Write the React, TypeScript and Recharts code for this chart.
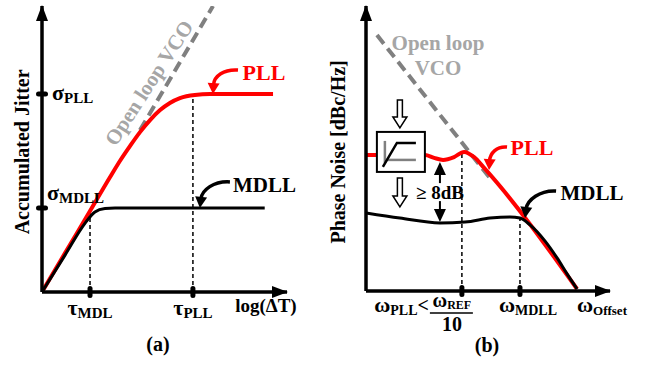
import React from "react";
import { LineChart, Line, XAxis, YAxis, ReferenceDot, ReferenceLine } from "recharts";

const FONT = '"Liberation Serif", "Times New Roman", serif';
const RED = "#ff0000";
const GRAY_LINE = "#808080";
const GRAY_TEXT = "#a6a6a6";

// (a) accumulated jitter vs log(dT), both axes 0..100 (arrow tip = 100)
const jitterVco = [[40, 56.6], [69.8, 100]];
const jitterPll = [
  [0, 0], [9.4, 13.6], [19.6, 28.3], [27.8, 40.2], [31.8, 45.8], [35.9, 51.0],
  [40.0, 55.9], [44.1, 60.1], [48.2, 63.6], [52.2, 66.1], [56.3, 67.8],
  [62.4, 68.9], [68.6, 69.2], [94.3, 69.2],
];
const jitterMdll = [
  [0, 0], [9.4, 12.9], [17.6, 24.1], [21.6, 28.0], [25.7, 29.2], [29.8, 29.4], [90.9, 29.4],
];
const jitterTicksX = [19.6, 61.6]; // tau_MDL, tau_PLL
const jitterTickNames = ["MDL", "PLL"];
const jitterTicksY = [29.4, 69.2]; // sigma_MDLL, sigma_PLL
const jitterTickNamesY = ["MDLL", "PLL"];

// (b) phase noise vs offset frequency
const noiseVco = [[4.5, 89.8], [50.8, 39.6]];
const noisePll = [
  [0, 47.7], [24.2, 47.7], [27.9, 46.7], [31.6, 46.0], [36.1, 47.0], [40.2, 48.8],
  [44.3, 47.0], [48.4, 43.2], [86.5, 0.7],
];
const noiseMdll = [
  [0, 27.4], [13.9, 25.6], [30.3, 23.9], [40.6, 24.2], [50.8, 25.6], [59.0, 26.0],
  [63.1, 25.6], [67.2, 23.2], [73.4, 17.5], [78.3, 11.6], [82.4, 6.0], [86.5, 0.7],
];
const noiseTicksX = [39.3, 63.1]; // omega_REF/10, omega_MDLL

const toXY = (pts: number[][]) => pts.map(([x, y]) => ({ x, y }));

function note(key: string, x: number, y: number, content: React.ReactNode) {
  return (
    <ReferenceDot
      key={key}
      x={x}
      y={y}
      r={0}
      ifOverflow="visible"
      shape={(p: any) => <g transform={`translate(${p.cx},${p.cy})`}>{content}</g>}
    />
  );
}

function Sym({ x = 0, y = 0, main, sub, size = 22, subSize = 15, subDy = 3, anchor = "start", color = "#000" }: any) {
  return (
    <text x={x} y={y} textAnchor={anchor} fontFamily={FONT} fontWeight="bold" fill={color}>
      <tspan fontSize={size}>{main}</tspan>
      <tspan fontSize={subSize} dy={subDy}>{sub}</tspan>
    </text>
  );
}

function Label({ text, size = 21, color = "#000", rotate = 0 }: any) {
  return (
    <text
      x={0}
      y={0}
      transform={rotate ? `rotate(${rotate})` : undefined}
      textAnchor="middle"
      dominantBaseline="central"
      fontFamily={FONT}
      fontWeight="bold"
      fontSize={size}
      fill={color}
    >
      {text}
    </text>
  );
}

function CurvedArrow({ tip, c1, c2, color, w = 3.5 }: any) {
  const [tx, ty] = tip;
  const dx = tx - c2[0];
  const dy = ty - c2[1];
  const len = Math.hypot(dx, dy);
  const ux = dx / len;
  const uy = dy / len;
  const hl = 11;
  const hw = 6;
  const bx = tx - ux * hl;
  const by = ty - uy * hl;
  const head = `${tx},${ty} ${bx - uy * hw},${by + ux * hw} ${bx + uy * hw},${by - ux * hw}`;
  return (
    <g>
      <path
        d={`M0 0 C${c1[0]} ${c1[1]} ${c2[0]} ${c2[1]} ${bx + ux * 2} ${by + uy * 2}`}
        fill="none"
        stroke={color}
        strokeWidth={w}
      />
      <polygon points={head} fill={color} />
    </g>
  );
}

function HollowArrow({ x = 0, y0, y1 }: any) {
  const sw = 2.5;
  const hw = 7;
  const hl = 11;
  const pts = [
    [x - sw, y0], [x + sw, y0], [x + sw, y1 - hl], [x + hw, y1 - hl],
    [x, y1], [x - hw, y1 - hl], [x - sw, y1 - hl],
  ];
  return <polygon points={pts.map((p) => p.join(",")).join(" ")} fill="#fff" stroke="#000" strokeWidth={1.5} />;
}

const xArrow = (
  <polygon points="1,0 -15,-6 -15,6" fill="#000" />
);
const yArrow = (
  <polygon points="0,-1 -6,15 6,15" fill="#000" />
);

function TauTick(p: any) {
  const { x, y, payload } = p;
  const i = jitterTicksX.indexOf(payload.value);
  return (
    <g>
      <rect x={x - 2.5} y={y - 6} width={5} height={12} rx={2.5} fill="#000" />
      <Sym x={x} y={y + 23} main="τ" sub={jitterTickNames[i]} anchor="middle" />
    </g>
  );
}

function SigmaTick(p: any) {
  const { x, y, payload } = p;
  const i = jitterTicksY.indexOf(payload.value);
  const dx = i === 0 ? 5 : 10;
  const dy = i === 0 ? -8 : 6;
  return (
    <g>
      <rect x={x - 6} y={y - 2.5} width={12} height={5} rx={2.5} fill="#000" />
      <Sym x={x + dx} y={y + dy} main="σ" sub={jitterTickNamesY[i]} />
    </g>
  );
}

function OmegaTick(p: any) {
  const { x, y, payload } = p;
  const first = payload.value === noiseTicksX[0];
  return (
    <g>
      <rect x={x - 2.5} y={y - 6} width={5} height={12} rx={2.5} fill="#000" />
      {first ? (
        <g>
          <text x={x - 33} y={y + 21} textAnchor="end" fontFamily={FONT} fontWeight="bold">
            <tspan fontSize={22}>ω</tspan>
            <tspan fontSize={14} dy={3}>PLL</tspan>
            <tspan fontSize={20} dy={-3}>&lt;</tspan>
          </text>
          <Sym x={x - 10} y={y + 16} main="ω" sub="REF" size={20} subSize={12} subDy={2} anchor="middle" />
          <line x1={x - 32} x2={x + 11} y1={y + 22} y2={y + 22} stroke="#000" strokeWidth={1.5} />
          <text x={x - 10} y={y + 40} textAnchor="middle" fontFamily={FONT} fontWeight="bold" fontSize={20}>
            10
          </text>
        </g>
      ) : (
        <Sym x={x + 8} y={y + 21} main="ω" sub="MDLL" size={22} subSize={14} subDy={3} anchor="middle" />
      )}
    </g>
  );
}

const dashed = { stroke: "#000", strokeWidth: 1.5, strokeDasharray: "4 3" };
const axisLine = { stroke: "#000", strokeWidth: 3.5 };

function JitterChart() {
  return (
    <LineChart width={320} height={365} margin={{ top: 6, right: 33, bottom: 43, left: 12 }}>
      <XAxis
        type="number"
        dataKey="x"
        domain={[0, 100]}
        allowDataOverflow
        ticks={jitterTicksX}
        interval={0}
        tickSize={0}
        tickMargin={0}
        tickLine={false}
        axisLine={axisLine}
        tick={<TauTick />}
        height={30}
      />
      <YAxis
        type="number"
        domain={[0, 100]}
        allowDataOverflow
        ticks={jitterTicksY}
        interval={0}
        tickSize={0}
        tickMargin={0}
        tickLine={false}
        axisLine={axisLine}
        tick={<SigmaTick />}
        width={30}
      />
      <ReferenceLine segment={[{ x: 19.6, y: 0 }, { x: 19.6, y: 28 }]} ifOverflow="visible" {...dashed} />
      <ReferenceLine segment={[{ x: 61.6, y: 0 }, { x: 61.6, y: 68.5 }]} ifOverflow="visible" {...dashed} />
      <Line data={toXY(jitterVco)} dataKey="y" type="linear" stroke={GRAY_LINE} strokeWidth={4}
        strokeDasharray="11 6" dot={false} activeDot={false} isAnimationActive={false} />
      <Line data={toXY(jitterPll)} dataKey="y" type="monotone" stroke={RED} strokeWidth={4}
        dot={false} activeDot={false} isAnimationActive={false} />
      <Line data={toXY(jitterMdll)} dataKey="y" type="monotone" stroke="#000" strokeWidth={3}
        dot={false} activeDot={false} isAnimationActive={false} />
      {note("xa", 100, 0, xArrow)}
      {note("ya", 0, 100, yArrow)}
      {note("ylab", -8.2, 49, <Label text="Accumulated Jitter" size={20} rotate={-90} />)}
      {note("vco", 43.7, 73.1, <Label text="Open loop VCO" size={21} color={GRAY_TEXT} rotate={-57} />)}
      {note("pll", 90.6, 76.9, <Label text="PLL" size={22} color={RED} />)}
      {note("pllArrow", 80, 77.6, <CurvedArrow tip={[-25, 24]} c1={[-14, -1]} c2={[-24, 6]} color={RED} />)}
      {note("mdll", 90.8, 37.4, <Label text="MDLL" size={21} />)}
      {note("mdllArrow", 76.7, 38.5, <CurvedArrow tip={[-30, 26]} c1={[-16, -1]} c2={[-28, 8]} color="#000" />)}
      {note("xlab", 91.4, 0,
        <text x={0} y={20} textAnchor="middle" fontFamily={FONT} fontWeight="bold" fontSize={19}>log(ΔT)</text>)}
      {note("cap", 47.3, 0,
        <text x={0} y={59} textAnchor="middle" fontFamily={FONT} fontWeight="bold" fontSize={20}>(a)</text>)}
    </LineChart>
  );
}

function NoiseChart() {
  return (
    <LineChart width={327} height={365} margin={{ top: 6, right: 37, bottom: 44, left: 16 }}>
      <XAxis
        type="number"
        dataKey="x"
        domain={[0, 100]}
        allowDataOverflow
        ticks={noiseTicksX}
        interval={0}
        tickSize={0}
        tickMargin={0}
        tickLine={false}
        axisLine={axisLine}
        tick={<OmegaTick />}
        height={30}
      />
      <YAxis
        type="number"
        domain={[0, 100]}
        allowDataOverflow
        tick={false}
        tickLine={false}
        axisLine={axisLine}
        width={30}
      />
      <ReferenceLine segment={[{ x: 39.3, y: 0 }, { x: 39.3, y: 48.5 }]} ifOverflow="visible" {...dashed} />
      <ReferenceLine segment={[{ x: 63.1, y: 0 }, { x: 63.1, y: 25.6 }]} ifOverflow="visible" {...dashed} />
      <Line data={toXY(noiseVco)} dataKey="y" type="linear" stroke={GRAY_LINE} strokeWidth={4}
        strokeDasharray="11 6" dot={false} activeDot={false} isAnimationActive={false} />
      <Line data={toXY(noisePll)} dataKey="y" type="monotone" stroke={RED} strokeWidth={4}
        dot={false} activeDot={false} isAnimationActive={false} />
      <Line data={toXY(noiseMdll)} dataKey="y" type="monotone" stroke="#000" strokeWidth={3}
        dot={false} activeDot={false} isAnimationActive={false} />
      {note("xa", 100, 0, xArrow)}
      {note("ya", 0, 100, yArrow)}
      {note("ylab", -11.5, 48.8, <Label text="Phase Noise [dBc/Hz]" size={20} rotate={-90} />)}
      {note("vco1", 29.5, 87, <Label text="Open loop" size={21} color={GRAY_TEXT} />)}
      {note("vco2", 29.5, 78.2, <Label text="VCO" size={21} color={GRAY_TEXT} />)}
      {note("box", 14.3, 48.8,
        <g>
          <HollowArrow x={-1} y0={-52} y1={-24} />
          <rect x={-24} y={-20} width={48} height={40} fill="#fff" stroke="#000" strokeWidth={2} />
          <line x1={-16} x2={-16} y1={-11} y2={11} stroke={GRAY_LINE} strokeWidth={2.5} />
          <line x1={-16} x2={15} y1={8} y2={8} stroke={GRAY_LINE} strokeWidth={2.5} />
          <polyline points="-18,15 -4,-9 15,-9" fill="none" stroke="#000" strokeWidth={2.5} />
          <HollowArrow x={-1} y0={26} y1={55} />
        </g>)}
      {note("gap", 30.3, 34.7,
        <g>
          <line x1={0} x2={0} y1={-18} y2={-9} stroke="#000" strokeWidth={2} />
          <polygon points="0,-30 -6,-17 6,-17" fill="#000" />
          <line x1={0} x2={0} y1={9} y2={18} stroke="#000" strokeWidth={2} />
          <polygon points="0,30 -6,17 6,17" fill="#000" />
          <Label text="≥ 8dB" size={19} />
        </g>)}
      {note("pll", 68, 50.2, <Label text="PLL" size={22} color={RED} />)}
      {note("pllArrow", 57.8, 50.5, <CurvedArrow tip={[-18, 23]} c1={[-10, -1]} c2={[-17, 6]} color={RED} />)}
      {note("mdll", 92.6, 34.4, <Label text="MDLL" size={21} />)}
      {note("mdllArrow", 77.9, 35.1, <CurvedArrow tip={[-31, 27]} c1={[-16, -1]} c2={[-29, 9]} color="#000" />)}
      {note("xlab", 96.7, 0, <Sym x={0} y={21} main="ω" sub="Offset" size={22} subSize={13} subDy={3} anchor="middle" />)}
      {note("cap", 49.6, 0,
        <text x={0} y={61} textAnchor="middle" fontFamily={FONT} fontWeight="bold" fontSize={20}>(b)</text>)}
    </LineChart>
  );
}

export default function App() {
  return (
    <div style={{ position: "absolute", left: 0, top: 0, width: 647, height: 365, background: "#fff" }}>
      <div style={{ position: "absolute", left: 0, top: 0 }}>
        <JitterChart />
      </div>
      <div style={{ position: "absolute", left: 320, top: 0 }}>
        <NoiseChart />
      </div>
    </div>
  );
}
